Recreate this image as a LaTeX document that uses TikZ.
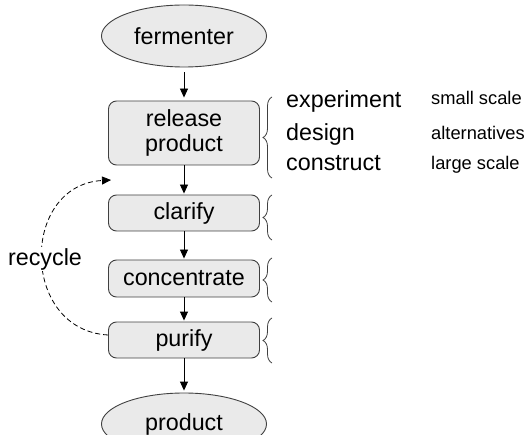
\documentclass[tikz,border=0pt]{standalone}
\usepackage{fontspec}
\setmainfont{Liberation Sans}
\usetikzlibrary{shapes.geometric,arrows.meta,decorations.pathreplacing}
\definecolor{stagefill}{HTML}{EAEAEA}
\definecolor{stageline}{HTML}{404040}
\tikzset{
  bigtext/.style={font=\fontsize{23.3}{27}\selectfont},
  smalltext/.style={font=\fontsize{18.3}{22}\selectfont},
  endpoint/.style={ellipse, draw=stageline, fill=stagefill, line width=0.9pt,
    minimum width=165pt, minimum height=62pt, inner sep=0pt, bigtext},
  stage/.style={rectangle, rounded corners=8pt, draw=stageline, fill=stagefill,
    line width=0.9pt, minimum width=151pt, inner sep=0pt, align=center, bigtext},
  flow/.style={-{Triangle[length=9pt,width=8pt]}, line width=0.9pt, black},
  bracket/.style={decorate, decoration={brace, amplitude=9pt}, line width=0.8pt, stageline},
  label/.style={anchor=base west, inner sep=0pt},
}
\begin{document}
\begin{tikzpicture}[x=1pt, y=-1pt]
  \useasboundingbox (0,0) rectangle (532,435);
  \clip (0,0) rectangle (532,435);

  % process chain
  \node[endpoint] (ferm) at (184,36) {fermenter};
  \node[stage, minimum height=64pt] (rel) at (184,133) {release\\[-2pt]product};
  \node[stage, minimum height=36pt] (clar) at (184,213) {clarify};
  \node[stage, minimum height=37pt] (conc) at (184,278.5) {concentrate};
  \node[stage, minimum height=36pt] (pur) at (184,340) {purify};
  \node[endpoint] (prod) at (184,424) {product};

  \draw[flow, shorten <=5pt, shorten >=3pt] (ferm) -- (rel);
  \draw[flow, shorten >=1pt] (rel) -- (clar);
  \draw[flow, shorten >=1pt] (clar) -- (conc);
  \draw[flow, shorten >=1pt] (conc) -- (pur);
  \draw[flow, shorten >=2pt] (pur) -- (prod);

  % recycle loop back to the top of the chain
  \coordinate (back) at (111,180);
  \draw[dashed, dash pattern=on 5pt off 3pt, line width=0.8pt,
        -{Triangle[length=9pt,width=8pt]}]
    ([yshift=5pt]pur.west) .. controls (20,330) and (20,185) .. (back);
  \node[bigtext, fill=white, inner sep=1pt] (rec) at (45,259) {recycle};

  % braces beside each stage
  \draw[bracket] (272,178) -- (272,97);
  \draw[bracket] (272,240) -- (272,195);
  \draw[bracket] (272,302) -- (272,258);
  \draw[bracket] (272,363) -- (272,318);

  % design levels and their scope
  \node[label, bigtext] (exp) at (286,108) {experiment};
  \node[label, bigtext] (des) at (286,141) {design};
  \node[label, bigtext] (con) at (286,171) {construct};
  \node[label, smalltext] (sma) at (431,105) {small scale};
  \node[label, smalltext] (alt) at (431,140) {alternatives};
  \node[label, smalltext] (lar) at (431,170) {large scale};
\end{tikzpicture}
\end{document}
